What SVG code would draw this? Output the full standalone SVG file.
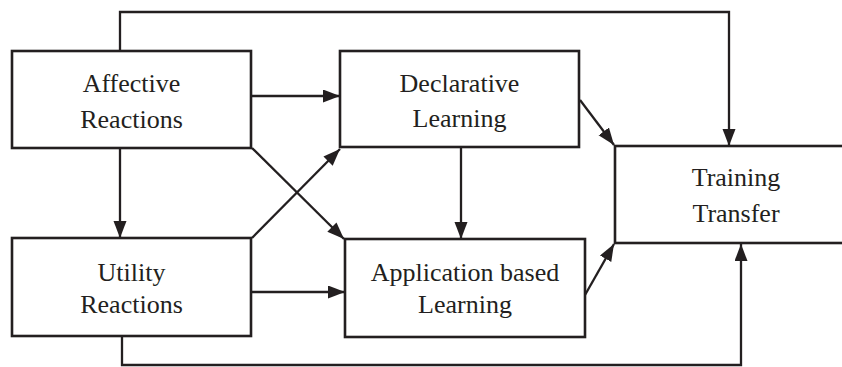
<svg xmlns="http://www.w3.org/2000/svg" width="842" height="367" viewBox="0 0 842 367">
<style>
.box{fill:#fff;stroke:#231f20;stroke-width:2.6}
.lbl{font-family:"Liberation Serif","Times New Roman",serif;font-size:26px;fill:#231f20;text-anchor:middle}
.c{fill:none;stroke:#231f20;stroke-width:2.3;marker-end:url(#ah)}
</style>
<defs>
<marker id="ah" markerUnits="userSpaceOnUse" markerWidth="18" markerHeight="14" refX="17" refY="6.5" orient="auto" viewBox="0 0 18 14">
<path d="M0,0 L17,6.5 L0,13 Z" fill="#231f20"/>
</marker>
</defs>
<rect width="842" height="367" fill="#fff"/>
<g id="connectors">
<path class="c" d="M120,51 V12 H729 V146"/>
<path class="c" d="M251,96 H340"/>
<path class="c" d="M580,100 L614,145"/>
<path class="c" d="M120,148 V238"/>
<path class="c" d="M252,238 L340,149"/>
<path class="c" d="M252,148 L344,239"/>
<path class="c" d="M461,147 V239"/>
<path class="c" d="M251,292 H345"/>
<path class="c" d="M585,295 L614,244"/>
<path class="c" d="M122,336 V365 H741 V244"/>
</g>
<g id="affective">
<rect class="box" x="12" y="51" width="239" height="97"/>
<text class="lbl" x="131.5" y="92">Affective</text>
<text class="lbl" x="131.5" y="128">Reactions</text>
</g>
<g id="declarative">
<rect class="box" x="340" y="51" width="239" height="96"/>
<text class="lbl" x="459.5" y="92">Declarative</text>
<text class="lbl" x="459.5" y="127">Learning</text>
</g>
<g id="training">
<rect class="box" x="615" y="146" width="245" height="97"/>
<text class="lbl" x="736" y="186">Training</text>
<text class="lbl" x="736" y="222">Transfer</text>
</g>
<g id="utility">
<rect class="box" x="12" y="238" width="239" height="98"/>
<text class="lbl" x="131.5" y="281">Utility</text>
<text class="lbl" x="131.5" y="313">Reactions</text>
</g>
<g id="application">
<rect class="box" x="345" y="239" width="240" height="98"/>
<text class="lbl" x="465" y="281">Application based</text>
<text class="lbl" x="465" y="313">Learning</text>
</g>
</svg>
